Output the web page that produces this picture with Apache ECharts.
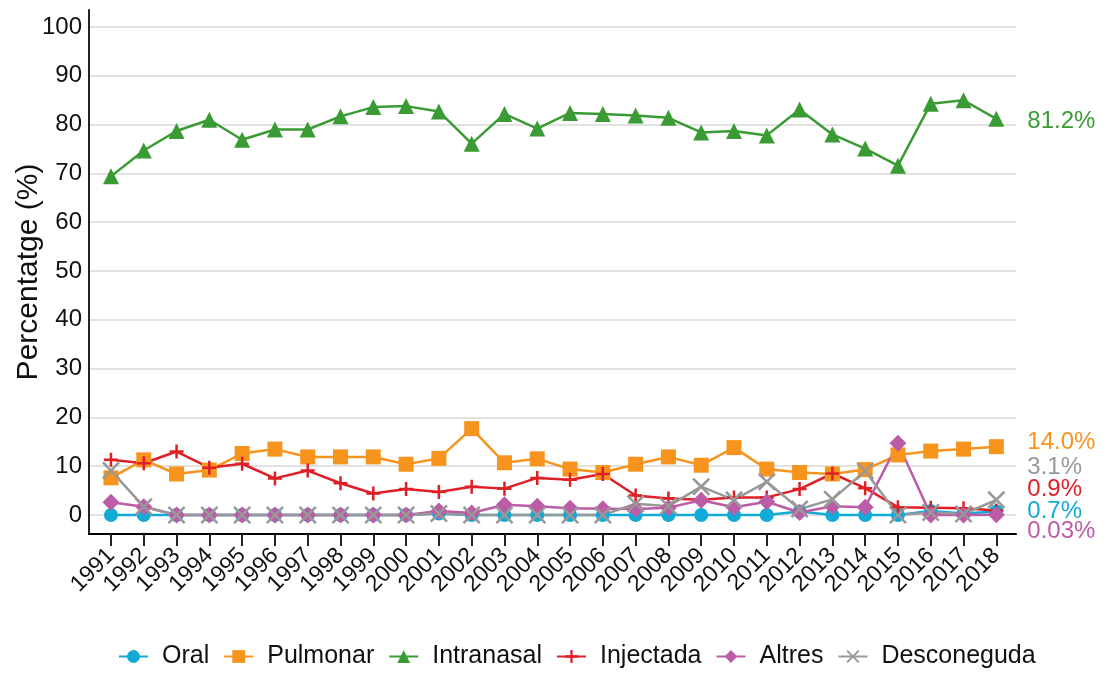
<!DOCTYPE html>
<html>
<head>
<meta charset="utf-8">
<script src="https://cdn.jsdelivr.net/npm/echarts@6/dist/echarts.min.js"></script>
<style>
html, body { margin: 0; padding: 0; background: #fff; }
#chart { width: 1112px; height: 674px; }
</style>
</head>
<body>
<div id="chart"></div>
<script>
const years = [1991, 1992, 1993, 1994, 1995, 1996, 1997, 1998, 1999, 2000, 2001, 2002, 2003, 2004,
  2005, 2006, 2007, 2008, 2009, 2010, 2011, 2012, 2013, 2014, 2015, 2016, 2017, 2018]
const yTicks = [0, 10, 20, 30, 40, 50, 60, 70, 80, 90, 100]

const oral = [0, 0, 0, 0, 0, 0, 0, 0, 0, 0, 0.3, 0, 0, 0,
  0, 0, 0, 0, 0, 0, 0, 0.7, 0, 0, 0, 0.8, 0.3, 0.7]
const pulmonar = [7.6, 11.3, 8.4, 9.2, 12.6, 13.5, 11.9, 11.9, 11.9, 10.4, 11.6, 17.7, 10.7, 11.5,
  9.4, 8.7, 10.4, 11.9, 10.2, 13.8, 9.4, 8.7, 8.4, 9.3, 12.3, 13.1, 13.5, 14.0]
const intranasal = [69.4, 74.7, 78.7, 81.0, 76.9, 79.0, 79.0, 81.7, 83.6, 83.8, 82.7, 76.1, 82.2, 79.2,
  82.4, 82.2, 81.9, 81.4, 78.4, 78.7, 77.8, 83.1, 78.0, 75.1, 71.6, 84.3, 85.0, 81.2]
const injectada = [11.3, 10.6, 13.0, 9.7, 10.5, 7.5, 9.1, 6.5, 4.4, 5.3, 4.7, 5.8, 5.4, 7.6,
  7.2, 8.4, 4.0, 3.4, 3.1, 3.6, 3.6, 5.3, 8.5, 5.5, 1.6, 1.5, 1.4, 0.9]
const altres = [2.6, 1.7, 0, 0, 0, 0, 0, 0, 0, 0, 0.8, 0.4, 2.1, 1.8,
  1.4, 1.3, 1.2, 1.5, 3.0, 1.6, 2.7, 0.5, 1.8, 1.6, 14.7, 0, 0, 0.03]
const desconeguda = [9.1, 1.7, 0, 0, 0, 0, 0, 0, 0, 0, 0.3, 0, 0, 0,
  0, 0, 2.3, 1.8, 5.8, 3.1, 6.8, 1.2, 3.2, 9.0, 0, 0.5, 0.2, 3.1]

const endText = ['0.7%', '14.0%', '81.2%', '0.9%', '0.03%', '3.1%']
const endShift = [0, -4, 3, -21, 17, -32]

const plusPath = 'path://M4.1,0H5.9V4.1H10V5.9H5.9V10H4.1V5.9H0V4.1H4.1Z'
const crossPath = 'path://M0,1L1,0L5,4L9,0L10,1L6,5L10,9L9,10L5,6L1,10L0,9L4,5Z'

const chart = echarts.init(document.getElementById('chart'))

const defs = [
  { name: 'Oral', data: oral, color: '#12aad6', symbol: 'circle', size: 14 },
  { name: 'Pulmonar', data: pulmonar, color: '#f7941d', symbol: 'rect', size: 15 },
  { name: 'Intranasal', data: intranasal, color: '#3a9a34', symbol: 'triangle', size: 16 },
  { name: 'Injectada', data: injectada, color: '#df1f26', symbol: plusPath, size: 14 },
  { name: 'Altres', data: altres, color: '#bd5ca6', symbol: 'diamond', size: 17 },
  { name: 'Desconeguda', data: desconeguda, color: '#989898', symbol: crossPath, size: 18 }
]

const series = defs.map((d, i) => ({
  name: d.name,
  type: 'line',
  data: d.data.map((v, k) => [years[k], v]),
  symbol: d.symbol,
  symbolSize: d.size,
  showAllSymbol: true,
  lineStyle: { width: 2.5, color: d.color },
  itemStyle: { color: d.color },
  emphasis: { disabled: true },
  animation: false,
  endLabel: {
    show: true,
    formatter: endText[i],
    color: d.color,
    fontSize: 24,
    fontFamily: 'Liberation Sans, Arial, sans-serif',
    distance: 31,
    offset: [0, endShift[i]]
  }
}))

chart.setOption({
  animation: false,
  textStyle: { fontFamily: 'Liberation Sans, Arial, sans-serif' },
  grid: { left: 89, right: 96, top: 10, bottom: 140, containLabel: false, outerBoundsMode: 'none' },
  legend: {
    bottom: 0,
    left: 113,
    itemWidth: 29,
    itemHeight: 16,
    itemGap: 14,
    textStyle: { fontSize: 25, color: '#111', padding: [0, 0, 0, 9] },
    data: defs.map(d => d.name)
  },
  xAxis: {
    type: 'value',
    min: 1990.33,
    max: 2018.6,
    splitLine: { show: false },
    axisLine: { show: true, onZero: false, lineStyle: { color: '#000', width: 2 } },
    axisTick: { show: true, length: 12, customValues: years, lineStyle: { color: '#222', width: 2 } },
    axisLabel: {
      customValues: years,
      rotate: 45,
      fontSize: 23,
      color: '#111',
      margin: 18,
      showMinLabel: true,
      showMaxLabel: true,
      hideOverlap: false,
      formatter: v => String(v)
    }
  },
  yAxis: {
    type: 'value',
    min: -3.9,
    max: 103.5,
    name: 'Percentatge (%)',
    nameLocation: 'middle',
    nameGap: 45,
    nameMoveOverlap: false,
    nameTextStyle: { fontSize: 30, color: '#111' },
    axisLine: { show: true, onZero: false, lineStyle: { color: '#222', width: 2 } },
    axisTick: { show: false, customValues: yTicks },
    axisLabel: { customValues: yTicks, fontSize: 24, color: '#111', margin: 7 },
    splitLine: { show: true, lineStyle: { color: '#e2e2e2', width: 2 } }
  },
  series: series
})
</script>
</body>
</html>
